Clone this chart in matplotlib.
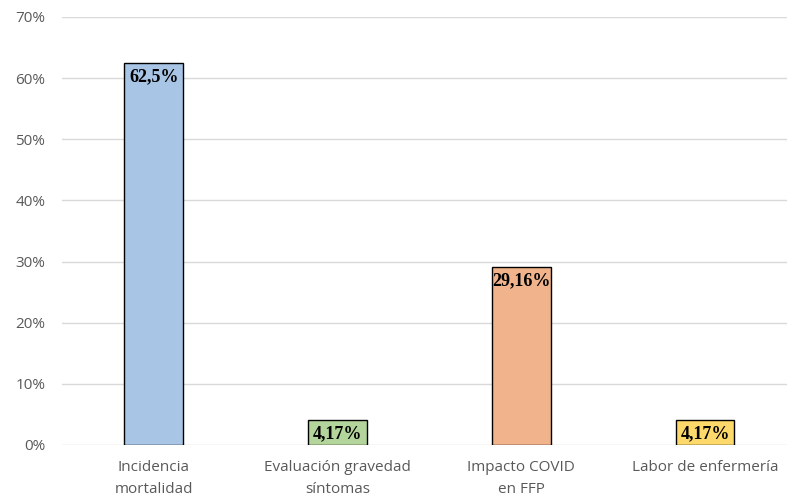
import numpy as np
import matplotlib.pyplot as plt
from matplotlib.ticker import FuncFormatter

categories = ['Incidencia\nmortalidad', 'Evaluación gravedad\nsíntomas',
              'Impacto COVID\nen FFP', 'Labor de enfermería']
values = [62.5, 4.17, 29.16, 4.17]
labels = ['62,5%', '4,17%', '29,16%', '4,17%']
colors = ['#a9c5e6', '#b3d49a', '#f0b38b', '#fdd86a']

fig = plt.figure(figsize=(7.87, 5.03), dpi=100)
ax = fig.add_axes([62 / 787, 1 - 445 / 503, 1 - 62 / 787, (445 - 17) / 503])

x = np.arange(len(values))
ax.bar(x, values, width=0.32, color=colors, edgecolor='black', linewidth=1, zorder=3)

# value labels sit just inside the top of each bar
for xi, v, lab in zip(x, values, labels):
    ax.annotate(lab, (xi, v), xytext=(0, -10), textcoords='offset points',
                ha='center', va='center', fontsize=13, fontweight='bold',
                family='Liberation Serif', color='black', zorder=4)

ax.set_ylim(0, 70)
ax.set_xlim(-0.5, 3.446)
ax.set_yticks(np.arange(0, 71, 10))
ax.yaxis.set_major_formatter(FuncFormatter(lambda v, p: f'{v:.0f}%'))
ax.set_xticks(x)
ax.set_xticklabels(categories)
ax.grid(axis='y', color='#d9d9d9', linewidth=1, zorder=0)
for s in ax.spines.values():
    s.set_visible(False)
ax.tick_params(axis='both', length=0, colors='#595959', labelsize=11)
ax.tick_params(axis='y', pad=12)
ax.tick_params(axis='x', pad=11)
for t in ax.get_xticklabels() + ax.get_yticklabels():
    t.set_family('Open Sans')
    t.set_linespacing(1.6)

fig.savefig('out.png', dpi=100)
